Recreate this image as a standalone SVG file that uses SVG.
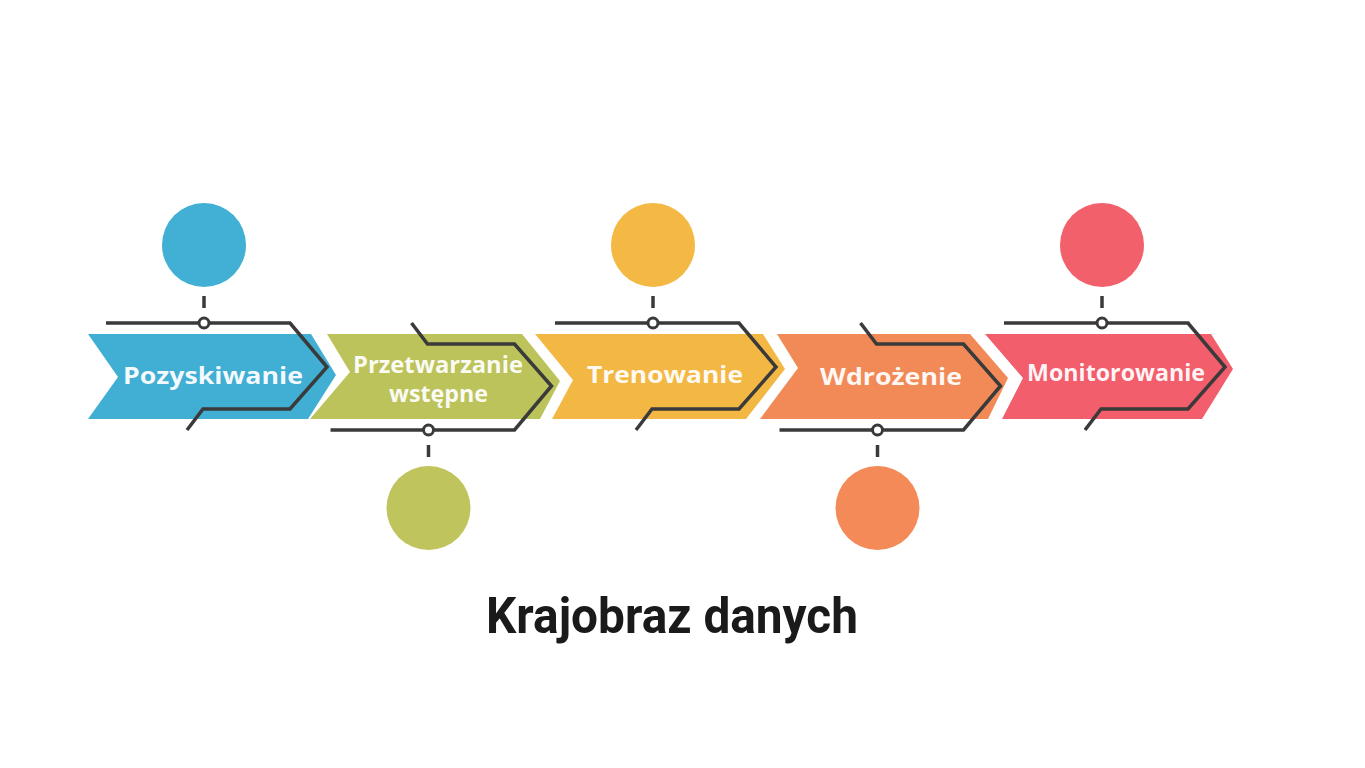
<svg xmlns="http://www.w3.org/2000/svg" width="1365" height="768" viewBox="0 0 1365 768">
<style>
.lbl{font-family:"Open Sans","Liberation Sans",sans-serif;font-weight:700;font-size:23px;fill:#ffffff;fill-opacity:0.94;text-anchor:middle}
.ln{fill:none;stroke:#3a3a3a;stroke-width:3.5;stroke-linejoin:miter}
.dot{fill:#ffffff;stroke:#3a3a3a;stroke-width:3}
.title{font-family:Roboto,"Liberation Sans",sans-serif;font-weight:700;font-size:50px;fill:#1a1a1a;text-anchor:middle}
</style>
<defs>
<path id="lineTop" d="M106,323 H290 L327,367 L290,409 H203 L187,430"/>
<path id="lineBot" d="M106,430 H290 L327,386 L290,344 H203 L187,323"/>
</defs>
<rect width="1365" height="768" fill="#ffffff"/>

<g id="step1">
<polygon points="88,334 311,334 336,375 308,419 88,419 118,377" fill="#41aed3"/>
<circle cx="204" cy="245" r="42" fill="#42b0d5"/>
<text class="lbl" x="213" y="384" textLength="180" lengthAdjust="spacingAndGlyphs">Pozyskiwanie</text>
</g>

<g id="step2">
<polygon points="327,334 522,334 560,381 540,419 310,419 350,372" fill="#bdc35b"/>
<circle cx="428.5" cy="508" r="42" fill="#bfc45c"/>
<text class="lbl" x="438" y="373" font-size="19" textLength="170" lengthAdjust="spacingAndGlyphs">Przetwarzanie</text>
<text class="lbl" x="438.5" y="402" font-size="19" textLength="99" lengthAdjust="spacingAndGlyphs">wstępne</text>
</g>

<g id="step3">
<polygon points="535,334 763,334 785,369 746,419 552,419 573,380" fill="#f3b844"/>
<circle cx="653" cy="245" r="42" fill="#f3b944"/>
<text class="lbl" x="665" y="383" textLength="156" lengthAdjust="spacingAndGlyphs">Trenowanie</text>
</g>

<g id="step4">
<polygon points="777,334 970,334 1008,378 988,419 760,419 798,368" fill="#f28a58"/>
<circle cx="877.5" cy="508" r="42" fill="#f38a58"/>
<text class="lbl" x="891" y="385" textLength="142" lengthAdjust="spacingAndGlyphs">Wdrożenie</text>
</g>

<g id="step5">
<polygon points="985,334 1211,334 1233,369 1202,419 1002,419 1023,378" fill="#f25e6b"/>
<circle cx="1102" cy="245" r="42" fill="#f2606b"/>
<text class="lbl" x="1116" y="381" textLength="178" lengthAdjust="spacingAndGlyphs">Monitorowanie</text>
</g>

<g id="connectors">
<use href="#lineTop" class="ln"/>
<use href="#lineBot" class="ln" transform="translate(224.5,0)"/>
<use href="#lineTop" class="ln" transform="translate(449,0)"/>
<use href="#lineBot" class="ln" transform="translate(673.5,0)"/>
<use href="#lineTop" class="ln" transform="translate(898,0)"/>
<g stroke="#3a3a3a" stroke-width="3.5">
<line x1="204" y1="296" x2="204" y2="308"/>
<line x1="428.5" y1="445" x2="428.5" y2="457"/>
<line x1="653" y1="296" x2="653" y2="308"/>
<line x1="877.5" y1="445" x2="877.5" y2="457"/>
<line x1="1102" y1="296" x2="1102" y2="308"/>
</g>
<circle class="dot" cx="204" cy="323" r="5"/>
<circle class="dot" cx="428.5" cy="430" r="5"/>
<circle class="dot" cx="653" cy="323" r="5"/>
<circle class="dot" cx="877.5" cy="430" r="5"/>
<circle class="dot" cx="1102" cy="323" r="5"/>
</g>

<text class="title" x="672" y="633" textLength="372" lengthAdjust="spacingAndGlyphs">Krajobraz danych</text>
</svg>
